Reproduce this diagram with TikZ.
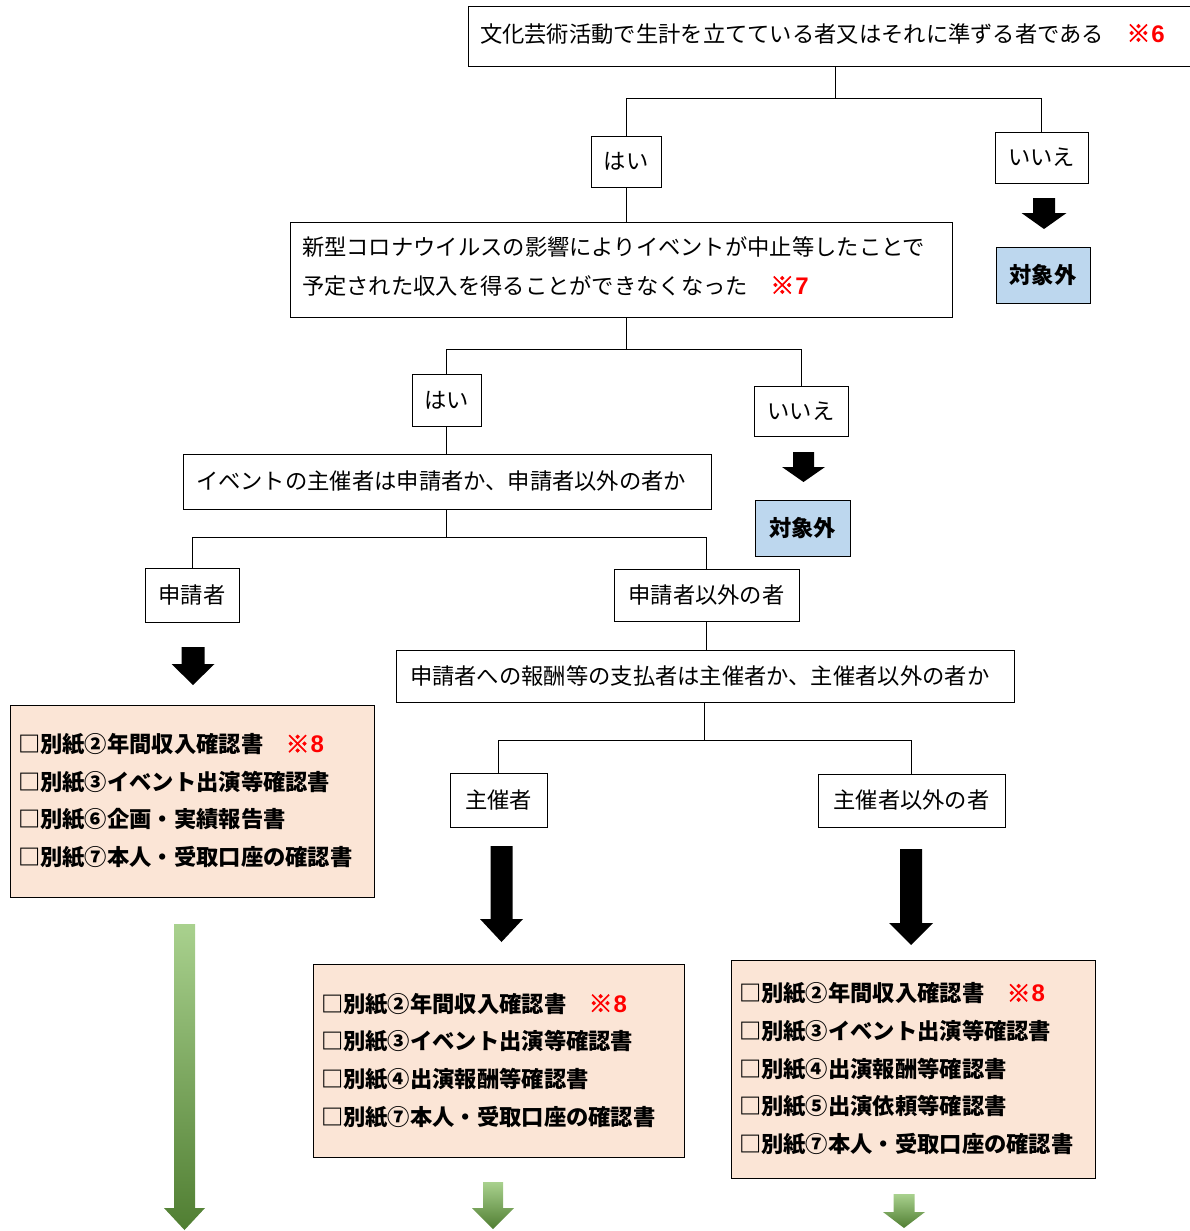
\documentclass[tikz,border=0pt]{standalone}
\usepackage{fontspec}
\setmainfont{Noto Sans CJK JP}
\newfontfamily\lat{Liberation Sans}
\newfontfamily\rmk{Noto Sans CJK JP}[BoldFeatures={FakeBold=2.5}]
\definecolor{peach}{HTML}{FBE5D6}
\definecolor{lblue}{HTML}{BDD7EE}
\definecolor{gtop}{HTML}{A9D18E}
\definecolor{gmid}{HTML}{70AD47}
\definecolor{gbot}{HTML}{507E32}
\newcommand\rnote[1]{\textcolor{red}{{\rmk\bfseries\fontsize{24}{24}\selectfont ※}\kern1pt{\lat\bfseries\fontsize{24}{24}\selectfont #1}}}
\newcommand\lowstrut{\rule[-8.7pt]{0pt}{0pt}}
% block arrow: style, cx, top, headstart, tip, halfshaft, halfhead
\newcommand\blockarr[7]{%
  \path[#1] ({#2-#6},#3) -- ({#2+#6},#3) -- ({#2+#6},#4) -- ({#2+#7},#4) -- (#2,#5)
    -- ({#2-#7},#4) -- ({#2-#6},#4) -- cycle;}
\begin{document}
\begin{tikzpicture}[x=1pt,y=-1pt,
  base/.style={draw=black, line width=1pt, inner ysep=0pt, font=\fontsize{22.3}{39}\selectfont},
  tbox/.style={base, align=left},
  sbox/.style={base, align=center, inner xsep=0pt},
  lbox/.style={base, align=left, fill=peach, font=\fontsize{22.3}{37.6}\selectfont\bfseries, inner xsep=8pt},
  obox/.style={base, align=center, inner xsep=0pt, fill=lblue, font=\fontsize{22.3}{30}\selectfont\bfseries},
  ln/.style={draw=black, line width=1pt},
  blk/.style={fill=black},
  grn/.style={top color=gtop, middle color=gmid, bottom color=gbot}]
\useasboundingbox (0,0) rectangle (1190,1231);

% nodes
\node[tbox, inner xsep=12pt, text width=710pt, minimum height=60pt] (top) at (835,37)
  {文化芸術活動で生計を立てている者又はそれに準ずる者である　\rnote{6}\lowstrut};
\node[sbox, minimum width=70pt, minimum height=51pt] (hai1) at (626,161.5) {はい};
\node[sbox, minimum width=93pt, minimum height=51pt] (iie1) at (1041.5,157.5) {いいえ};
\node[obox, minimum width=94pt, minimum height=56pt] (out1) at (1043,275) {対象外};
\node[tbox, inner xsep=12pt, text width=638pt, minimum height=95pt] (box2) at (621,269.5)
  {新型コロナウイルスの影響によりイベントが中止等したことで\\
   予定された収入を得ることができなくなった　\rnote{7}\lowstrut};
\node[sbox, minimum width=69pt, minimum height=52pt] (hai2) at (446.5,400) {はい};
\node[sbox, minimum width=94pt, minimum height=50pt] (iie2) at (801,411) {いいえ};
\node[obox, minimum width=95pt, minimum height=56pt] (out2) at (802.5,528) {対象外};
\node[tbox, inner xsep=13pt, text width=502pt, minimum height=55pt] (box3) at (447,481.5)
  {イベントの主催者は申請者か、申請者以外の者か};
\node[sbox, minimum width=94pt, minimum height=54pt] (shin) at (192,595) {申請者};
\node[sbox, minimum width=185pt, minimum height=52pt] (igai) at (706.5,595) {申請者以外の者};
\node[lbox, text width=348pt, minimum height=192pt] (listA) at (192,801)
  {□別紙②年間収入確認書　\rnote{8}\\
   □別紙③イベント出演等確認書\\
   □別紙⑥企画・実績報告書\\
   □別紙⑦本人・受取口座の確認書};
\node[tbox, inner xsep=14pt, text width=590pt, minimum height=52pt] (box4) at (705,676)
  {申請者への報酬等の支払者は主催者か、主催者以外の者か};
\node[sbox, minimum width=97pt, minimum height=54pt] (shu) at (498.5,800) {主催者};
\node[sbox, minimum width=187pt, minimum height=53pt] (shugai) at (911.5,800.5) {主催者以外の者};
\node[lbox, text width=355pt, minimum height=193pt] (listB) at (498.5,1060.5)
  {□別紙②年間収入確認書　\rnote{8}\\
   □別紙③イベント出演等確認書\\
   □別紙④出演報酬等確認書\\
   □別紙⑦本人・受取口座の確認書};
\node[lbox, text width=348pt, minimum height=218pt] (listC) at (913,1069)
  {□別紙②年間収入確認書　\rnote{8}\\
   □別紙③イベント出演等確認書\\
   □別紙④出演報酬等確認書\\
   □別紙⑤出演依頼等確認書\\
   □別紙⑦本人・受取口座の確認書};

% connectors
\draw[ln] (top.south) -- ++(0,31) coordinate (j1);
\draw[ln] (j1) -| (hai1.north);
\draw[ln] (j1) -| (iie1.north);
\draw[ln] (hai1.south) -- (hai1.south |- box2.north);
\draw[ln] (box2.south -| hai1.south) -- ++(0,32) coordinate (j2);
\draw[ln] (j2) -| (hai2.north);
\draw[ln] (j2) -| (iie2.north);
\draw[ln] (hai2.south) -- (hai2.south |- box3.north);
\draw[ln] (box3.south -| hai2.south) -- ++(0,28) coordinate (j3);
\draw[ln] (j3) -| (shin.north);
\draw[ln] (j3) -| (igai.north);
\draw[ln] (igai.south) -- (igai.south |- box4.north);
\draw[ln] (box4.south -| 704,0) -- ++(0,38) coordinate (j4);
\draw[ln] (j4) -| (shu.north);
\draw[ln] (j4) -| (shugai.north);

% block arrows
\blockarr{blk}{1044}{198}{213}{229}{11}{22.5}
\blockarr{blk}{803.5}{452}{467}{482}{10.5}{21.5}
\blockarr{blk}{193}{647}{664}{685}{11.5}{21.5}
\blockarr{blk}{501.5}{846}{919}{942}{11}{21.5}
\blockarr{blk}{911}{849}{923}{945}{11}{22}
\blockarr{grn}{184.5}{924}{1208}{1230}{10.5}{20.5}
\blockarr{grn}{493}{1182}{1208}{1229}{10}{21}
\blockarr{grn}{904}{1194}{1212}{1228}{10.5}{21}
\end{tikzpicture}
\end{document}
